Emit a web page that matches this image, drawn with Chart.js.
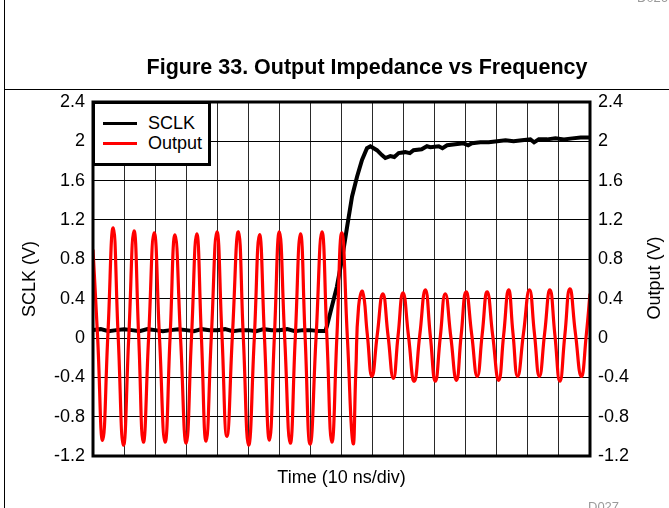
<!DOCTYPE html>
<html>
<head>
<meta charset="utf-8">
<script src="https://cdn.jsdelivr.net/npm/chart.js@4.4.1/dist/chart.umd.min.js"></script>
<style>
  html, body { margin: 0; padding: 0; background: #fff; }
  body { width: 669px; height: 508px; position: relative; overflow: hidden;
         font-family: "Liberation Sans", Arial, sans-serif; color: #000; }
  #wrap { position: absolute; left: 0; top: 0; width: 669px; height: 508px; }
  .frame-v { position: absolute; left: 4px; top: 0; width: 1px; height: 508px; background: #000; }
  .frame-h { position: absolute; left: 4px; top: 89px; width: 665px; height: 1px; background: #000; }
  #title { position: absolute; left: 367px; top: 57px; transform: translateX(-50%);
           font-size: 21.5px; font-weight: bold; line-height: 1; white-space: nowrap; }
  #ytitle-right { position: absolute; left: 654px; top: 278px; font-size: 18px; line-height: 1;
                  white-space: nowrap; transform: translate(-50%, -50%) rotate(-90deg); }
  .code { position: absolute; font-size: 13px; color: #9a9a9a; line-height: 1; }
  #legend { position: absolute; left: 92px; top: 101px; width: 119px; height: 65px;
            box-sizing: border-box; border: 3px solid #000; background: #fff; }
  #legend .row { position: absolute; left: 8px; height: 20px; display: flex; align-items: center; }
  #legend .swatch { width: 34px; height: 3px; margin-right: 11px; }
  #legend .txt { font-size: 18px; line-height: 1; }
</style>
</head>
<body>
<div id="wrap"><canvas id="chart" width="669" height="508"></canvas></div>
<div class="frame-v"></div>
<div class="frame-h"></div>
<div class="code" style="left:637px; top:-9px;">D026</div>
<div class="code" style="left:588px; top:500px;">D027</div>
<div id="title">Figure 33. Output Impedance vs Frequency</div>
<div id="ytitle-right">Output (V)</div>
<div id="legend"></div>

<script>
// Time axis in ns (10 ns per division, 16 divisions)
const xMin = 0, xMax = 160, xStep = 10;
const yTicks = [-1.2, -0.8, -0.4, 0, 0.4, 0.8, 1.2, 1.6, 2, 2.4];

// SCLK trace (noisy)
const sclkTime = [0, 2.5, 5, 7.5, 10, 12.5, 15, 17.5, 20, 22.5, 25, 27.5, 30, 32.5, 35, 37.5,
  40, 42.5, 45, 47.5, 50, 52.5, 55, 57.5, 60, 62.5, 65, 67.5, 70, 72.5, 74.8,
  75.3, 76.9, 78.5, 80.1, 81.8, 83.4, 85.0, 86.6, 88.2, 89.3, 91.4, 93.0, 94.1, 95.7, 97.0, 98.4,
  100.5, 102.0, 103.2, 105.8, 107.5, 108.6, 111.3, 112.5, 114.0, 116.6, 119.3, 120.8, 122.0, 124.7,
  127.4, 130.1, 132.8, 135.4, 138.1, 140.8, 142.0, 143.5, 146.2, 148.9, 151.6, 154.3, 157.0, 160];
const sclkVolts = [0.08, 0.09, 0.07, 0.08, 0.09, 0.08, 0.07, 0.09, 0.08, 0.07, 0.08, 0.09, 0.08, 0.07, 0.09, 0.08,
  0.08, 0.09, 0.07, 0.08, 0.08, 0.07, 0.09, 0.08, 0.08, 0.09, 0.07, 0.08, 0.08, 0.07, 0.07,
  0.12, 0.32, 0.52, 0.79, 1.13, 1.44, 1.64, 1.81, 1.93, 1.95, 1.91, 1.86, 1.83, 1.85, 1.84, 1.88,
  1.89, 1.88, 1.91, 1.92, 1.95, 1.94, 1.95, 1.93, 1.96, 1.97, 1.98, 1.96, 1.98, 1.99,
  1.99, 2.00, 2.01, 2.00, 2.01, 2.02, 1.99, 2.02, 2.02, 2.03, 2.02, 2.03, 2.04, 2.04];

// Output trace: peaks, troughs and crossings
const outTime = [0, 1.5, 3.1, 4.8, 6.5, 8.1, 9.8, 11.5, 13.2, 14.7, 16.2, 17.9, 19.7, 21.4, 23.2,
  24.8, 26.4, 28.2, 30.0, 31.7, 33.4, 34.9, 36.4, 38.1, 39.9, 41.5, 43.1, 44.9, 46.8, 48.4,
  50.1, 51.9, 53.6, 55.2, 56.8, 58.4, 60.0, 61.7, 63.5, 65.1, 66.8, 68.3, 69.9, 71.8, 73.7,
  75.3, 76.9, 78.5, 80.1, 81.9, 83.7, 84.6, 85.5, 86.8, 88.3, 89.8, 91.5, 93.3, 95.0, 96.7,
  98.2, 99.8, 101.6, 103.4, 105.2, 107.0, 108.6, 110.2, 111.8, 113.4, 115.2, 117.0, 118.5,
  120.1, 121.9, 123.7, 125.3, 126.9, 128.7, 130.6, 132.2, 133.8, 135.2, 136.7, 138.6, 140.5,
  142.1, 143.7, 145.4, 147.1, 148.7, 150.3, 151.9, 153.5, 155.3, 157.2, 158.8, 160];
const outVolts = [0.90, 0.0, -1.04, 0.04, 1.12, 0.02, -1.09, 0.0, 1.09, 0.02, -1.06, 0.0, 1.07, 0.01, -1.06,
  0.0, 1.05, -0.01, -1.07, 0.0, 1.06, 0.01, -1.05, 0.02, 1.08, 0.04, -1.00, 0.04, 1.08, 0.0,
  -1.09, -0.02, 1.05, 0.01, -1.04, 0.02, 1.08, 0.01, -1.07, -0.01, 1.06, 0.0, -1.08, 0.0, 1.08,
  0.01, -1.06, 0.0, 1.07, 0.0, -1.07, -0.35, 0.32, 0.47, 0.04, -0.39, 0.03, 0.45, 0.02, -0.41,
  0.02, 0.46, 0.01, -0.44, 0.03, 0.49, 0.02, -0.44, 0.01, 0.45, 0.01, -0.43, 0.02,
  0.47, 0.04, -0.39, 0.04, 0.47, 0.02, -0.43, 0.03, 0.49, 0.05, -0.39, 0.05, 0.49,
  0.05, -0.39, 0.05, 0.49, 0.03, -0.44, 0.03, 0.50, 0.05, -0.39, 0.03, 0.45];

const series = [
  { label: "SCLK", color: "#000000", time: sclkTime, volts: sclkVolts, width: 4, order: 2, tension: 0 },
  { label: "Output", color: "#ff0000", time: outTime, volts: outVolts, width: 3.2, order: 1, tension: 0.5 }
];

const FONT = "'Liberation Sans', Arial, sans-serif";
const fmtTick = (v) => String(Math.round(v * 10) / 10);

// legend box (drawn in HTML over the top-left corner of the plot)
const legend = document.getElementById("legend");
series.forEach((s, i) => {
  const row = document.createElement("div");
  row.className = "row";
  row.style.top = (9 + i * 20) + "px";
  row.innerHTML = `<span class="swatch" style="background:${s.color}"></span><span class="txt">${s.label}</span>`;
  legend.appendChild(row);
});

// heavy frame round the plot area
const frame = {
  id: "frame",
  afterDatasetsDraw(chart) {
    const a = chart.chartArea, c = chart.ctx;
    c.save();
    c.lineWidth = 3;
    c.strokeStyle = "#000";
    c.strokeRect(a.left, a.top, a.right - a.left, a.bottom - a.top);
    c.restore();
  }
};

const yScale = (pos, w, showGrid) => ({
  type: "linear",
  position: pos,
  min: yTicks[0],
  max: yTicks[yTicks.length - 1],
  afterBuildTicks: (s) => { s.ticks = yTicks.map(v => ({ value: v })); },
  afterFit: (s) => { s.width = w; },
  grid: { display: showGrid, drawOnChartArea: showGrid, drawTicks: false, color: "#000", lineWidth: 1 },
  border: { display: false },
  ticks: { color: "#000", padding: 8, font: { family: FONT, size: 18 }, callback: fmtTick }
});

new Chart(document.getElementById("chart"), {
  type: "line",
  data: {
    datasets: series.map(s => ({
      label: s.label,
      data: s.time.map((t, i) => ({ x: t, y: s.volts[i] })),
      borderColor: s.color,
      borderWidth: s.width,
      pointRadius: 0,
      fill: false,
      tension: s.tension,
      order: s.order,
      yAxisID: "y"
    }))
  },
  options: {
    responsive: false,
    animation: false,
    events: [],
    layout: { padding: { top: 102, left: 0, right: 0, bottom: 0 } },
    plugins: { legend: { display: false }, tooltip: { enabled: false } },
    scales: {
      x: {
        type: "linear",
        min: xMin, max: xMax,
        ticks: { display: false, stepSize: xStep },
        afterFit: (s) => { s.height = 52; },
        grid: { drawTicks: false, color: "#2a2a2a", lineWidth: 1 },
        border: { display: false },
        title: { display: true, text: "Time (10 ns/div)", color: "#000",
                 font: { family: FONT, size: 18 }, padding: { top: 0, bottom: 19 } }
      },
      y: Object.assign(yScale("left", 93, true), {
        title: { display: true, text: "SCLK (V)", color: "#000",
                 font: { family: FONT, size: 18 }, padding: { top: 19, bottom: 0 } }
      }),
      y1: yScale("right", 79, false)
    }
  },
  plugins: [frame]
});
</script>
</body>
</html>
